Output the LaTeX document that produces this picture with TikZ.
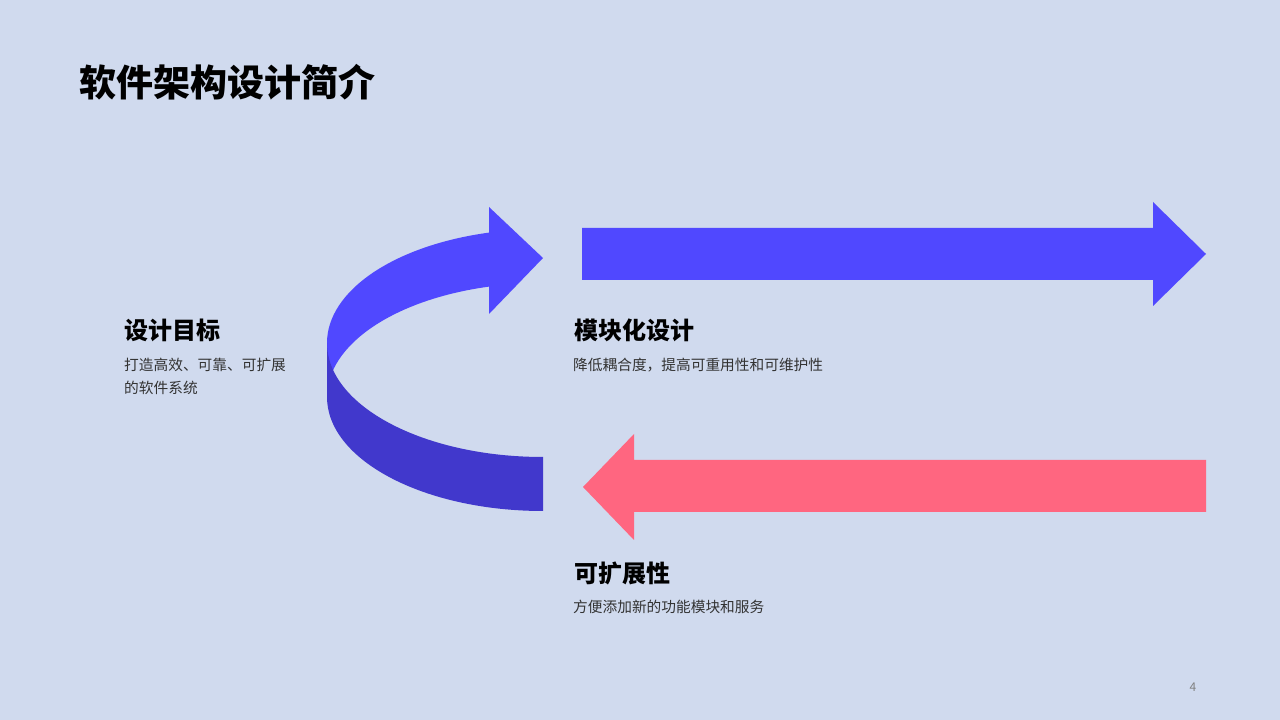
\documentclass[tikz,border=0pt]{standalone}
\usepackage{fontspec}
\usepackage{xcolor}
\usepackage{tikz}
\usetikzlibrary{positioning}
\newfontfamily\cjk{Noto Sans CJK SC}
\definecolor{bgpale}{RGB}{208,218,238}
\definecolor{arrblue}{RGB}{80,72,255}
\definecolor{arrdeep}{RGB}{65,56,204}
\definecolor{arrpink}{RGB}{255,102,128}
\definecolor{txtgray}{RGB}{51,51,51}

\begin{document}
\begin{tikzpicture}[x=1pt, y=1pt,
  title/.style={anchor=west, inner sep=0pt, font=\cjk\bfseries\fontsize{37}{44}\selectfont},
  head/.style={anchor=west, inner sep=0pt, font=\cjk\bfseries\fontsize{24}{29}\selectfont},
  desc/.style={anchor=west, inner sep=0pt, align=left, text=txtgray, font=\cjk\fontsize{14.7}{23}\selectfont},
  pgno/.style={inner sep=0pt, text=gray, font=\cjk\fontsize{12}{14}\selectfont},
  ell/.style={x radius=216pt, y radius=114pt}]
\fill[bgpale] (0,0) rectangle (1280,720);
\useasboundingbox (0,0) rectangle (1280,720);
% curved ribbon arrow
\fill[arrblue] (489,487.4) arc[start angle=104.48, end angle=180, ell]
  -- (327,323) arc[start angle=180, end angle=104.48, ell]
  -- (489,406) -- (543,462) -- (489,513) -- cycle;
\fill[arrdeep] (543,263) arc[start angle=270, end angle=180, ell]
  -- (327,323) arc[start angle=180, end angle=270, ell] -- cycle;
% straight arrows
\fill[arrblue] (582,492) -- (1153,492) -- (1153,518) -- (1206,466)
  -- (1153,414) -- (1153,440) -- (582,440) -- cycle;
\fill[arrpink] (583,233) -- (634,286) -- (634,260) -- (1206,260)
  -- (1206,208) -- (634,208) -- (634,180) -- cycle;
\node[title] (ttl) at (79,638) {软件架构设计简介};
\node[head] (goal) at (124,390) {设计目标};
\node[desc] (goaltxt) at (124,343.5) {打造高效、可靠、可扩展\\的软件系统};
\node[head] (modul) at (574,390) {模块化设计};
\node[desc] (modultxt) at (573,355) {降低耦合度，提高可重用性和可维护性};
\node[head] (scale) at (574,147) {可扩展性};
\node[desc] (scaletxt) at (573,113) {方便添加新的功能模块和服务};
\node[pgno] (pg) at (1193,33) {4};
\end{tikzpicture}
\end{document}
